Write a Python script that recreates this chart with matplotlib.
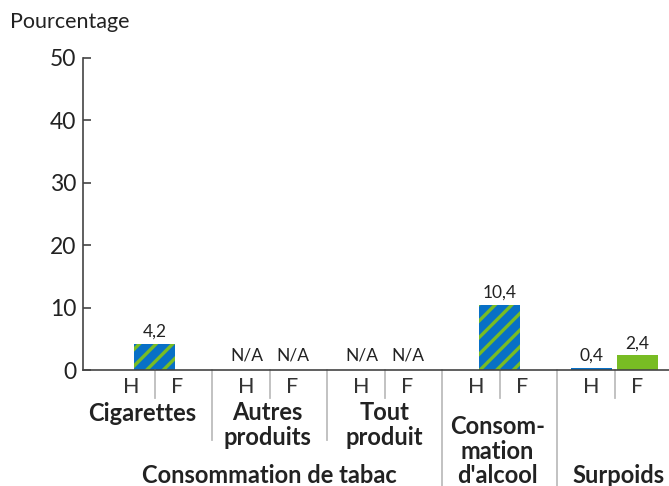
import matplotlib
matplotlib.use("Agg")
import matplotlib.pyplot as plt
from matplotlib.transforms import blended_transform_factory

plt.rcParams["font.family"] = ["Lato", "DejaVu Sans"]
plt.rcParams["hatch.linewidth"] = 2.4

# Data
categories = ["Cigarettes", "Autres\nproduits", "Tout\nproduit",
              "Consom-\nmation\nd'alcool", "Surpoids"]
sex_labels = ["H", "F"]
ensemble = [4.2, None, None, 10.4, None]      # both sexes combined (hatched)
hommes = [None, "N/A", "N/A", None, 0.4]
femmes = [None, "N/A", "N/A", None, 2.4]
y_ticks = [0, 10, 20, 30, 40, 50]
super_group = "Consommation de tabac"

BLUE = "#0870C6"
GREEN = "#78BC23"
TEXT = "#222222"
GRID = "#BDBDBD"

W, H = 669, 486
fig = plt.figure(figsize=(W / 100, H / 100), dpi=100)
ax = fig.add_axes([83 / W, (H - 370) / H, (669 - 83) / W, 312 / H])

bar_w = 0.365
off = 0.2

for i, v in enumerate(ensemble):
    if v is not None:
        ax.bar(i, v, width=bar_w, color=BLUE, edgecolor=GREEN, hatch="//",
               linewidth=0, zorder=2)
        ax.annotate(f"{v:.1f}".replace(".", ","), (i, v), xytext=(0, 3),
                    textcoords="offset points", ha="center", va="bottom",
                    fontsize=12.5, color=TEXT)

for vals, dx, col in ((hommes, -off, BLUE), (femmes, off, GREEN)):
    for i, v in enumerate(vals):
        if v is None:
            continue
        if isinstance(v, str):
            ax.annotate(v, (i + dx, 0), xytext=(0, 5), textcoords="offset points",
                        ha="center", va="bottom", fontsize=12.5, color=TEXT)
        else:
            ax.bar(i + dx, v, width=bar_w, color=col, linewidth=0, zorder=2)
            ax.annotate(f"{v:.1f}".replace(".", ","), (i + dx, v), xytext=(0, 2.5),
                        textcoords="offset points", ha="center", va="bottom",
                        fontsize=12.5, color=TEXT)

n = len(categories)
ax.set_xlim(-0.5 - 14 / 115, n - 0.5 - 3 / 115)
ax.set_ylim(0, 50)
ax.set_yticks(y_ticks)
ax.tick_params(axis="y", direction="in", length=6, width=1.2, color="#444444",
               labelsize=16.5, labelcolor=TEXT, pad=5)
ax.set_xticks([])
for s in ("top", "right"):
    ax.spines[s].set_visible(False)
ax.spines["left"].set_color("#444444")
ax.spines["left"].set_linewidth(1.2)
ax.spines["bottom"].set_color("#444444")
ax.spines["bottom"].set_linewidth(1.2)

fig.text(10 / W, 1 - 22 / H, "Pourcentage", ha="left", va="center",
         fontsize=15.5, color=TEXT)

tr = blended_transform_factory(ax.transData, ax.transAxes)


def yfrac(py):
    return (370 - py) / 312


# H / F labels and dividers under each group
for i in range(n):
    for dx, lab in zip((-off, off), sex_labels):
        ax.text(i + dx, yfrac(387), lab, transform=tr, ha="center", va="center",
                fontsize=15.5, color="#333333")
    ax.plot([i, i], [0, yfrac(398)], transform=tr, color=GRID, lw=1.3,
            clip_on=False)

# group separators
for b, py in ((0.5, 440), (1.5, 440), (2.5, 486), (3.5, 486)):
    ax.plot([b, b], [0, yfrac(py)], transform=tr, color=GRID, lw=1.3,
            clip_on=False)

# category labels
label_y = [413, 425, 425, 451, 475]
label_dx = [-0.104, -0.02, 0.0, -0.02, 0.035]
for i, (cat, py, ldx) in enumerate(zip(categories, label_y, label_dx)):
    ax.text(i + ldx, yfrac(py), cat, transform=tr, ha="center", va="center",
            fontsize=17, fontweight="bold", color=TEXT, linespacing=1.08)

ax.text(1, yfrac(475), super_group, transform=tr, ha="center", va="center",
        fontsize=17, fontweight="bold", color=TEXT)

fig.savefig("out.png", dpi=100)
